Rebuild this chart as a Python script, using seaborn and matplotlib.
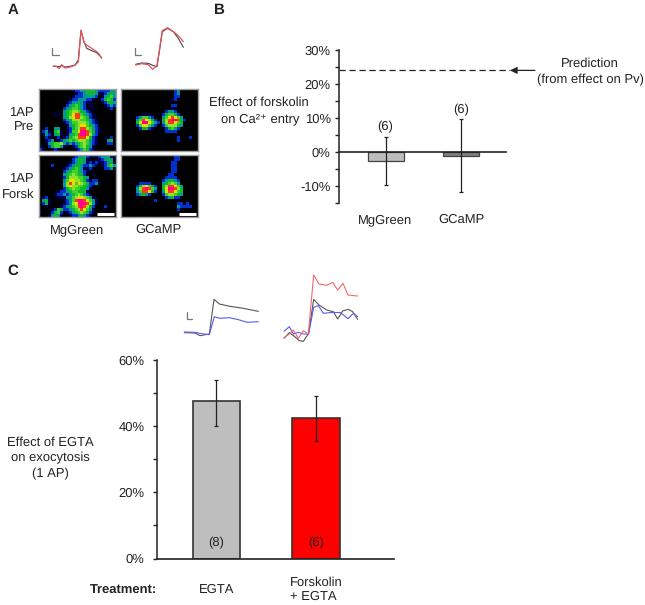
"""Forskolin / EGTA figure: heat maps, traces and bar charts. Saves out.png"""
import numpy as np
import pandas as pd
import matplotlib
matplotlib.use("Agg")
import matplotlib.pyplot as plt
from matplotlib.colors import ListedColormap
from matplotlib.ticker import MultipleLocator
import seaborn as sns

W, H = 645, 605

# ── Panel A heat maps, one digit per cell (0 = black, 9 = magenta) ──
MG_PRE = [
    "00000000000122334443222233", "00000000000012234443112343",
    "00000000000122233332013453", "00000000001223332210024542",
    "00000000012334321100012443", "00000000023454320100001232",
    "00000000234554321010000120", "00000000345665432100000000",
    "00000110345788543210000000", "00000000346788654210000000",
    "00000000234666554321000000", "00000000123556665321000000",
    "00000000013456775432000000", "00200330012456886532100000",
    "02310451012557998542100000", "01320341013458998632000000",
    "00210120124568887421001020", "00123012345456665321000340",
    "00134556323234565321000220", "10024553100124564310000000",
    "21001210000012354210000000",
]
MG_FORSK = [
    "00000000000123342111233310", "00000000000234431000123431",
    "00000000001234431212112341", "00002000012344322321012453",
    "00000000123454311200002231", "00000000234554321000000000",
    "00000000345654420010000000", "00000000246665543000000000",
    "00000000357766542122000000", "00000000368757654223100000",
    "00000000367665543210000000", "00000000245655443100000000",
    "00000012234554441000000000", "00000122323456532100000000",
    "01200011133567765310000000", "03410000123589987531000000",
    "02410000123679998631000000", "00100001234568986420002000",
    "00001254223456875310001000", "10002452012345654210000000",
    "00013431001223432100000000",
]
GC_PRE = [
    "00000000000000000023000000", "00000000000000000023000000",
    "00000000000000000022000000", "00000000000000000120000000",
    "00000000000000000000000000", "00000000000000000220000000",
    "00000000000000000100000000", "00000000000000023320000000",
    "00000001110000245542000000", "00000235532000357875300000",
    "00000358764200468998420000", "00000479975320368875400000",
    "00000257753200256664300000", "00000024421000024532000000",
    "00000000000000022220000000", "00000000000000000000000000",
    "00000000000000000002000200", "00000000000000000002000000",
    "00000000000000000000000000", "00000000000000000000000000",
    "00000000000000000000000000",
]
GC_FORSK = [
    "00000000000000000022000000", "00000000000000000022000000",
    "00000000000000000220000000", "00000000000000000220000000",
    "00000000000000000220000000", "00000000000000000220000000",
    "00000000000000002200000000", "00000000000000022220000000",
    "00000000000000234432000000", "00000022220000345653000000",
    "00000246753200468875300000", "00000368985300479986400000",
    "00000358874200378875400000", "00000234320000256654300000",
    "00000000000000023422000000", "00000000000200000000000000",
    "00000000000000000002202000", "00000000000000000003222200",
    "00000000000000000002000000", "00000000000000000000000000",
    "00000000000000000000000000",
]
HEAT_COLORS = ["#000000", "#000050", "#0030d0", "#009a90", "#10b830",
               "#40d030", "#90e428", "#ecdc00", "#ff3a10", "#ff0090"]

# ── Traces at 3x ──
A1_X = [160, 170, 178, 185, 195, 210, 225, 235, 243, 252, 260, 275, 290, 297, 305]
A1_BLACK = [198, 199, 200, 197, 201, 199, 195, 180, 92, 125, 145, 152, 158, 165, 173]
A1_RED = [198, 200, 206, 194, 204, 201, 196, 185, 90, 128, 135, 145, 155, 162, 175]
A2_X = [407, 425, 445, 458, 471, 487, 503, 520, 535, 550]
A2_BLACK = [193, 189, 190, 196, 200, 95, 85, 95, 115, 142]
A2_RED = [195, 191, 194, 208, 197, 92, 83, 95, 107, 125]

C1_BLACK_X = [43, 75, 90, 118, 132, 148, 180, 215, 240, 265]
C1_BLACK = [218, 219, 227, 222, 118, 132, 139, 144, 149, 154]
C1_BLUE_X = [43, 75, 95, 118, 133, 150, 178, 205, 232, 265]
C1_BLUE = [216, 217, 221, 224, 170, 175, 173, 179, 187, 185]
C2_RED_X = [342, 358, 370, 385, 400, 415, 431, 447, 470, 488, 503, 519, 534, 563]
C2_RED = [233, 222, 210, 235, 212, 222, 45, 72, 76, 67, 90, 70, 105, 108]
C2_BLACK_X = [342, 358, 372, 388, 400, 416, 431, 447, 470, 490, 503, 518, 535, 548, 563]
C2_BLACK = [235, 218, 228, 242, 244, 220, 118, 135, 150, 155, 177, 153, 148, 155, 178]
C2_BLUE_X = [342, 358, 370, 385, 400, 416, 431, 445, 460, 490, 512, 534, 550, 563]
C2_BLUE = [214, 200, 222, 217, 222, 222, 142, 137, 160, 157, 158, 176, 160, 170]

SCALE_A1_X, SCALE_A1_Y = [157, 157, 178], [143, 165, 165]
SCALE_A2_X, SCALE_A2_Y = [405, 405, 423], [143, 165, 165]
SCALE_C_X, SCALE_C_Y = [50, 50, 65], [155, 178, 178]

# ── Panel B ──
B_NAMES = ["MgGreen", "GCaMP"]
B_MEANS = [-2.7, -1.1]
B_LOW = [-9.7, -11.7]
B_HIGH = [4.5, 9.6]
B_N = ["(6)", "(6)"]
B_PREDICTION = 24
B_TICKS = [-10, 0, 10, 20, 30]

# ── Panel C ──
C_NAMES = ["EGTA", "Forskolin\n+ EGTA"]
C_MEANS = [47.5, 42.5]
C_LOW = [40, 35.5]
C_HIGH = [54, 49]
C_N = ["(8)", "(6)"]
C_TICKS = [0, 20, 40, 60]

sns.set_style("ticks")
plt.rcParams["font.family"] = ["Liberation Sans", "DejaVu Sans"]
plt.rcParams["text.hinting"] = "no_hinting"
plt.rcParams["text.hinting_factor"] = 1
INK = "#222222"
FS = 9.0

fig = plt.figure(figsize=(W / 100, H / 100), dpi=100, facecolor="white")


def px_axes(x0, y0, x1, y1):
    """Axes placed by picture pixels (y counted from the top)."""
    return fig.add_axes([x0 / W, 1 - y1 / H, (x1 - x0) / W, (y1 - y0) / H])


# overlay for free text, in picture pixels
page = px_axes(0, 0, W, H)
page.set_xlim(0, W)
page.set_ylim(H, 0)
page.axis("off")


def label(x, y, s, ha="center", **kw):
    # y is the middle of the capitals, so labels with descenders stay level
    page.text(x, y + 4, s, ha=ha, va="baseline", fontsize=kw.pop("fontsize", FS), color=INK, **kw)


# ── A: heat maps ──
cmap = ListedColormap(HEAT_COLORS)
panels = [(MG_PRE, 39, 89), (GC_PRE, 121, 89), (MG_FORSK, 39, 155), (GC_FORSK, 121, 155)]
for rows, x0, y0 in panels:
    ax = px_axes(x0, y0, x0 + 77, y0 + 62)
    grid = np.array([[int(c) for c in r.ljust(26, "0")[:26]] for r in rows])
    sns.heatmap(grid, cmap=cmap, vmin=0, vmax=9, cbar=False,
                xticklabels=False, yticklabels=False, ax=ax)
    for sp in ax.spines.values():
        sp.set_visible(True)
        sp.set_color("#a0a0a0")
        sp.set_linewidth(1)
    # white size bar on the bottom row of images
    if y0 == 155:
        ax.hlines(19.9, 19.7, 25.2, color="white", lw=2.2)


def draw_lines(ax, series):
    for xs, ys, col, lw in series:
        sns.lineplot(x=xs, y=ys, color=col, lw=lw, sort=False, estimator=None, ax=ax)


# ── A: traces ──
tr = px_axes(0, 0, 220, 80)
tr.set_xlim(0, 660)
tr.set_ylim(240, 0)
tr.axis("off")
draw_lines(tr, [
    (A1_X, A1_BLACK, "#444444", 0.8), (A1_X, A1_RED, "#e8505a", 0.9),
    (A2_X, A2_BLACK, "#444444", 0.8), (A2_X, A2_RED, "#e8505a", 0.9),
    (SCALE_A1_X, SCALE_A1_Y, "#777777", 0.9), (SCALE_A2_X, SCALE_A2_Y, "#777777", 0.9),
])

# ── C: traces ──
tr = px_axes(170, 260, 380, 350)
tr.set_xlim(0, 630)
tr.set_ylim(270, 0)
tr.axis("off")
draw_lines(tr, [
    (C1_BLACK_X, C1_BLACK, "#555555", 0.8), (C1_BLUE_X, C1_BLUE, "#5a5af0", 0.8),
    (C2_BLACK_X, C2_BLACK, "#555555", 0.8), (C2_BLUE_X, C2_BLUE, "#5a5af0", 0.8),
    (C2_RED_X, C2_RED, "#f06a6a", 0.8), (SCALE_C_X, SCALE_C_Y, "#777777", 0.9),
])


def style_y(ax, ticks, minor, pad):
    ax.set_yticks(ticks)
    ax.set_yticklabels([f"{t}%" for t in ticks], fontsize=FS, color=INK)
    ax.yaxis.set_minor_locator(MultipleLocator(minor))
    ax.tick_params(axis="y", which="both", direction="out", length=3, width=1,
                   color=INK, pad=pad)
    ax.set_xlabel("")
    ax.set_ylabel("")
    ax.patch.set_alpha(0)
    ax.spines["left"].set_color(INK)
    ax.spines["left"].set_linewidth(1.1)
    ax.spines["bottom"].set_linewidth(1.2)
    ax.spines["bottom"].set_color(INK)


def draw_err(ax, means, low, high):
    ax.errorbar(range(len(means)), means,
                yerr=[np.array(means) - np.array(low), np.array(high) - np.array(means)],
                fmt="none", ecolor=INK, elinewidth=0.9, capsize=1.5, capthick=0.9, zorder=5)


# ── B: bars ──
ax = px_axes(339, 50, 506, 203)
df_b = pd.DataFrame({"name": B_NAMES, "value": B_MEANS})
sns.barplot(data=df_b, x="name", y="value", hue="name", legend=False, width=0.477, saturation=1,
            palette=["#bdbdbd", "#7f7f7f"], edgecolor="#444444", linewidth=0.9, ax=ax)
draw_err(ax, B_MEANS, B_LOW, B_HIGH)
ax.set_xlim(-0.616, 1.596)
ax.set_ylim(-15, 30)
style_y(ax, B_TICKS, 5, 3)
sns.despine(ax=ax)
ax.spines["bottom"].set_position(("data", 0))
ax.set_xticks([0, 1])
ax.set_xticklabels(B_NAMES, fontsize=FS, color=INK, va="baseline")
ax.tick_params(axis="x", length=0, pad=51)
ax.plot([-0.616, 1.65], [B_PREDICTION, B_PREDICTION], color=INK, lw=0.9,
        dashes=(5, 3), clip_on=False)
ax.annotate("", xy=(1.65, B_PREDICTION), xytext=(1.98, B_PREDICTION), annotation_clip=False,
            arrowprops=dict(arrowstyle="-|>", color=INK, lw=0.9, shrinkA=0, shrinkB=0))
for i, n in enumerate(B_N):
    ax.text(i, B_HIGH[i] + 1, n, ha="center", va="bottom", fontsize=FS, color=INK)

# ── C: bars ──
ax = px_axes(157, 360, 394, 558.5)
df_c = pd.DataFrame({"name": C_NAMES, "value": C_MEANS})
sns.barplot(data=df_c, x="name", y="value", hue="name", legend=False, width=0.475, saturation=1,
            palette=["#bebebe", "#ff0000"], edgecolor="#333333", linewidth=1.2, ax=ax)
draw_err(ax, C_MEANS, C_LOW, C_HIGH)
ax.set_xlim(-0.598, 1.784)
ax.set_ylim(0, 60)
style_y(ax, C_TICKS, 10, 6)
sns.despine(ax=ax)
ax.set_xticks([0, 1])
ax.set_xticklabels(C_NAMES, fontsize=FS, color=INK, va="center", ma="left")
ax.tick_params(axis="x", length=0, pad=22)
for i, n in enumerate(C_N):
    ax.text(i, 4.6, n, ha="center", va="center", fontsize=FS, color=INK)

# ── Free text ──
label(13, 10, "A", fontweight="bold", fontsize=10.5)
label(219, 10, "B", fontweight="bold", fontsize=10.5)
label(13, 271, "C", fontweight="bold", fontsize=10.5)
label(34, 112, "1AP", ha="right")
label(34, 127, "Pre", ha="right")
label(34, 178, "1AP", ha="right")
label(34, 194, "Forsk", ha="right")
label(77, 229, "MgGreen")
label(158, 229, "GCaMP")
label(259, 102, "Effect of forskolin")
label(260, 118, "on Ca²⁺ entry")
label(590, 63, "Prediction")
label(590, 79, "(from effect on Pv)")
label(50, 442, "Effect of EGTA")
label(50, 457, "on exocytosis")
label(50, 473, "(1 AP)")
label(123, 590, "Treatment:", fontweight="bold")

fig.savefig("out.png", dpi=100, facecolor="white")
plt.close(fig)
